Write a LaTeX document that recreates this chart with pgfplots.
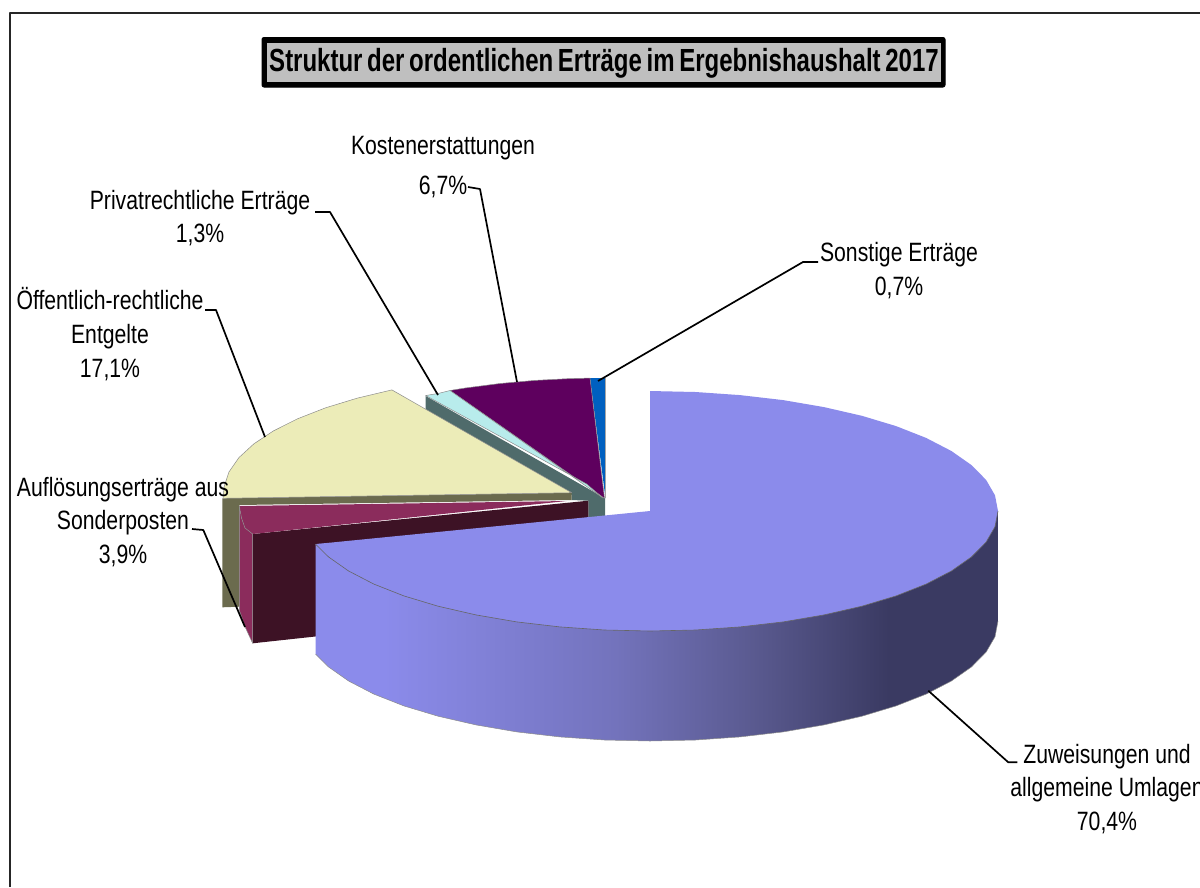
\documentclass[border=0pt]{standalone}
\usepackage{fontspec}
\setmainfont[FakeStretch=0.80]{Liberation Sans}
\newfontfamily\titlefont[FakeStretch=0.75,WordSpace=0.7]{Liberation Sans}
\usepackage{pgfplots}
\pgfplotsset{compat=1.18}
\definecolor{mainlight}{HTML}{8B8BEB}
\definecolor{mainmid}{HTML}{7373BC}
\definecolor{maindark}{HTML}{3A3A62}
\definecolor{mainlow}{HTML}{5A5A90}
\definecolor{cream}{HTML}{ECECB8}
\definecolor{olive}{HTML}{6B6B4E}
\definecolor{crimson}{HTML}{8B2C5C}
\definecolor{maroon}{HTML}{3D1225}
\definecolor{slate}{HTML}{4F6B6B}
\definecolor{paleblue}{HTML}{B8ECEC}
\definecolor{violet2}{HTML}{5E005E}
\definecolor{blue2}{HTML}{0060C0}
\definecolor{titlegrey}{HTML}{BFBFBF}
\pgfdeclarehorizontalshading{pieside}{100bp}{color(0bp)=(mainlight); color(30bp)=(mainlight); color(47bp)=(mainmid); color(57bp)=(mainlow); color(67bp)=(maindark); color(100bp)=(maindark)}
\tikzset{
  lbl/.style={font=\fontsize{26.5}{33.7}\selectfont,align=center,inner sep=0pt,text=black},
  edge/.style={draw=black!45,line width=0.5pt},
  leader/.style={draw=black,line width=1.7pt},
}
\begin{document}
\begin{tikzpicture}
\useasboundingbox (0,0) rectangle (1200pt,887pt);
\begin{axis}[
  at={(0,0)},anchor=south west,
  scale only axis,width=1200pt,height=887pt,
  xmin=0,xmax=1200,ymin=0,ymax=887,y dir=reverse,
  hide axis,clip=false,
  every axis plot/.append style={no markers,line join=round},
]
% frame (open at right and bottom)
\addplot[draw=black!85,line width=2pt] coordinates {(9.5,887) (9.5,12.5) (1200,12.5)};

% small slices at the back
\addplot[fill=slate,draw=none] coordinates {(425.7,396) (425.7,410) (571.7,495) (571.7,500) (588.3,500.7) (588.3,518) (605,516) (605,498.3)} --cycle;
\addplot[fill=blue2,draw=none] coordinates {(590,378.1) (605.5,378) (605.5,498.3)} --cycle;
\addplot[draw=black!35,line width=0.8pt] coordinates {(605.8,378) (605.8,498)};
\addplot[fill=violet2,edge] coordinates {(450,390.5) (465.3,388) (500.1,383.5) (534.9,380.4) (569.7,378.6) (590,378.1) (604.5,498.3)} --cycle;
\addplot[fill=paleblue,edge] coordinates {(425.7,395.5) (438,393.5) (450,390.5) (603,498) (586.7,484)} --cycle;

% Entgelte, side and top
\addplot[fill=olive,draw=none] coordinates {(222.3,498.3) (571.7,492.7) (571.7,500) (239.3,505) (239.3,606.7) (222.3,607.3)} --cycle;
\addplot[fill=cream,edge] coordinates {(391.9,389.9) (357.4,398.1) (325.6,407.8) (297.5,418.8) (273.4,430.9) (253.8,443.9) (238.9,457.6) (229,471.9) (224.2,486.4) (223,498.3) (571.7,492.7)} --cycle;

% Sonderposten
\addplot[fill=maroon,draw=none] coordinates {(252.7,534) (588.3,500.7) (588.3,520) (320,636) (252.7,643.3)} --cycle;
\addplot[fill=crimson,draw=none] coordinates {(239.3,506) (566.7,501) (252.7,534) (245,528) (241.5,518)} --cycle;
\addplot[fill=crimson,edge] coordinates {(239.3,506) (241.5,518) (245,528) (252.7,534) (252.7,643.3) (245,626.7) (239.3,610)} --cycle;

% main slice: side surface, then top
\addplot[shade,shading=pieside,draw=none] coordinates {
  (998,511) (998,621) (995,636.7) (986.1,652.1) (971.5,666.9) (951.4,681) (926.1,694.1) (896.1,705.9) (861.9,716.2)
  (824,724.9) (783.2,731.9) (740.1,736.9) (695.4,740) (650,741) (604.6,740) (559.9,736.9) (516.8,731.9) (476,724.9)
  (438.1,716.2) (403.9,705.9) (373.9,694.1) (348.6,681) (328.5,666.9) (315.5,654.1) (315.5,544.1)
} --cycle;
\addplot[draw=black!45,line width=0.5pt] coordinates {
  (998,621) (995,636.7) (986.1,652.1) (971.5,666.9) (951.4,681) (926.1,694.1) (896.1,705.9) (861.9,716.2)
  (824,724.9) (783.2,731.9) (740.1,736.9) (695.4,740) (650,741) (604.6,740) (559.9,736.9) (516.8,731.9) (476,724.9)
  (438.1,716.2) (403.9,705.9) (373.9,694.1) (348.6,681) (328.5,666.9) (315.5,654.1)
};
\addplot[fill=mainlight,draw=none] coordinates {
  (650,391) (695.4,392) (740.1,395.1) (783.2,400.1) (824,407.1) (861.9,415.8) (896.1,426.1) (926.1,437.9) (951.4,451)
  (971.5,465.1) (986.1,479.9) (995,495.3) (998,511) (995,526.7) (986.1,542.1) (971.5,556.9) (951.4,571) (926.1,584.1)
  (896.1,595.9) (861.9,606.2) (824,614.9) (783.2,621.9) (740.1,626.9) (695.4,630) (650,631) (604.6,630) (559.9,626.9)
  (516.8,621.9) (476,614.9) (438.1,606.2) (403.9,595.9) (373.9,584.1) (348.6,571) (328.5,556.9) (315.5,544.1) (650,511)
} --cycle;
\addplot[draw=black!60,line width=0.6pt] coordinates {
  (998,511) (995,526.7) (986.1,542.1) (971.5,556.9) (951.4,571) (926.1,584.1)
  (896.1,595.9) (861.9,606.2) (824,614.9) (783.2,621.9) (740.1,626.9) (695.4,630) (650,631) (604.6,630) (559.9,626.9)
  (516.8,621.9) (476,614.9) (438.1,606.2) (403.9,595.9) (373.9,584.1) (348.6,571) (328.5,556.9) (315.5,544.1)
};

% leader lines
\addplot[leader] coordinates {(928.3,690.7) (1008.3,762.3) (1017.3,762.3)};
\addplot[leader] coordinates {(598,381) (803,262) (818,262)};
\addplot[leader] coordinates {(517,382) (480,189) (468,187)};
\addplot[leader] coordinates {(438,395) (330,212) (315,212)};
\addplot[leader] coordinates {(265,437) (216,310) (205,310)};
\addplot[leader] coordinates {(245,627) (203.3,530) (192,529)};

% title box
\addplot[fill=black,draw=black,line width=1pt,rounded corners=2pt] coordinates {(262,37.5) (945,37.5) (945,87) (262,87)} --cycle;
\addplot[fill=titlegrey,draw=none] coordinates {(267,42.5) (940.7,42.5) (940.7,81.7) (267,81.7)} --cycle;
\node[inner sep=0pt,text=black,font=\titlefont\fontsize{32}{36}\selectfont\bfseries] at (axis cs:604,63.5) {Struktur der ordentlichen Erträge im Ergebnishaushalt 2017};

% labels
\node[lbl,anchor=center] at (axis cs:443,167) {Kostenerstattungen\\[6pt]6,7\%};
\node[lbl,anchor=center] at (axis cs:200,218) {Privatrechtliche Erträge\\1,3\%};
\node[lbl,anchor=center] at (axis cs:899,270.5) {Sonstige Erträge\\0,7\%};
\node[lbl,anchor=center] at (axis cs:110,334) {Öffentlich-rechtliche\\Entgelte\\17,1\%};
\node[lbl,anchor=center] at (axis cs:123,522) {Auflösungserträge aus\\Sonderposten\\3,9\%};
\node[lbl,anchor=center] at (axis cs:1107,789) {Zuweisungen und\\allgemeine Umlagen\\70,4\%};
\end{axis}
\end{tikzpicture}
\end{document}
